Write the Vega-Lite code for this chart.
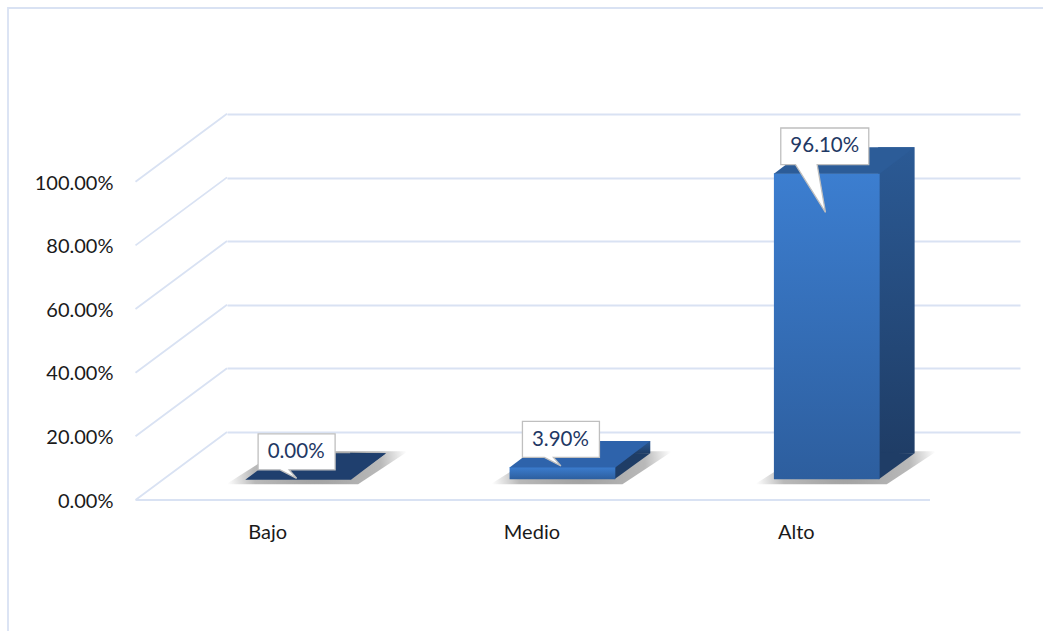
{
  "$schema": "https://vega.github.io/schema/vega-lite/v6.json",
  "width": 793,
  "height": 318,
  "autosize": {"type": "none"},
  "padding": {"left": 227, "top": 114, "right": 23, "bottom": 199},
  "background": "white",
  "config": {"view": {"stroke": null}, "font": "Lato", "axis": {"labelFont": "Lato"}},
  "data": {
    "values": [
      {"nivel": "Bajo", "porcentaje": 0.0},
      {"nivel": "Medio", "porcentaje": 0.039},
      {"nivel": "Alto", "porcentaje": 0.961}
    ]
  },
  "resolve": {"scale": {"x": "independent", "y": "independent"}},
  "layer": [
    {
      "transform": [{"aggregate": [{"op": "count", "as": "n"}]}],
      "mark": {
        "type": "point",
        "shape": "M0,0L-0.915,0.68M0,-0.6366L-0.915,0.0434M0,-1.2732L-0.915,-0.5932M0,-1.9098L-0.915,-1.2298M0,-2.5464L-0.915,-1.8664M0,-3.183L-0.915,-2.503M-0.915,0.68L7.03,0.68M-2.19,2.1L-2.19,-4.24L8.3,-4.24",
        "size": 40000,
        "filled": false,
        "stroke": "#D9E2F3",
        "strokeWidth": 1.8,
        "opacity": 1
      },
      "encoding": {
        "x": {"datum": 0, "type": "quantitative", "scale": {"domain": [0, 1]}, "axis": null},
        "y": {
          "datum": 0,
          "type": "quantitative",
          "scale": {"domain": [0, 1]},
          "axis": {
            "values": [0, 0.2, 0.4, 0.6, 0.8, 1],
            "format": ".2%",
            "grid": true,
            "gridColor": "#D9E2F3",
            "gridWidth": 1.8,
            "domain": false,
            "ticks": false,
            "labelOffset": 69,
            "labelPadding": 114,
            "labelFontSize": 20,
            "labelColor": "#1a1a1a",
            "title": null
          }
        }
      }
    },
    {
      "mark": {
        "type": "point",
        "shape": "M-0.72,0.05L0.6,0.05L1.1,-0.28L-0.2,-0.28Z",
        "size": 40000,
        "filled": true,
        "strokeWidth": 0,
        "opacity": 1,
        "fill": {
          "gradient": "radial",
          "x1": 0.5, "y1": 0.5, "r1": 0,
          "x2": 0.5, "y2": 0.5, "r2": 0.5,
          "stops": [
            {"offset": 0, "color": "rgba(80,80,80,0.55)"},
            {"offset": 0.7, "color": "rgba(80,80,80,0.4)"},
            {"offset": 1, "color": "rgba(80,80,80,0)"}
          ]
        }
      },
      "encoding": {
        "x": {"field": "nivel", "type": "nominal", "scale": {"type": "band", "domain": ["Bajo", "Medio", "Alto"], "paddingInner": 0.6, "paddingOuter": 0.3, "align": 0.115}, "axis": null},
        "y": {"datum": 0, "type": "quantitative", "scale": {"domain": [0, 1], "range": [365.3, 46.9], "nice": false, "zero": false}, "axis": null}
      }
    },
    {
      "mark": {
        "type": "bar",
        "width": 36.5,
        "color": {
          "gradient": "linear", "x1": 0, "y1": 0, "x2": 0, "y2": 1,
          "stops": [{"offset": 0, "color": "#2B5A95"}, {"offset": 1, "color": "#1F3D66"}]
        }
      },
      "encoding": {
        "x": {"field": "nivel", "type": "nominal", "scale": {"type": "band", "domain": ["Bajo", "Medio", "Alto"], "paddingInner": 0.6, "paddingOuter": 0.3, "align": 0.115, "range": [69.6, 862.6]}, "axis": null},
        "y": {"field": "porcentaje", "type": "quantitative", "scale": {"domain": [0, 1], "range": [339.3, 20.9], "nice": false, "zero": false}, "axis": null},
        "y2": {"datum": 0}
      }
    },
    {
      "mark": {
        "type": "point",
        "shape": "M0.52,0L0.8785,-0.26L0.52,-0.265Z",
        "size": 40000,
        "filled": true,
        "strokeWidth": 0,
        "opacity": 1,
        "fill": "#1F3D66"
      },
      "encoding": {
        "x": {"field": "nivel", "type": "nominal", "scale": {"type": "band", "domain": ["Bajo", "Medio", "Alto"], "paddingInner": 0.6, "paddingOuter": 0.3, "align": 0.115}, "axis": null},
        "y": {"datum": 0, "type": "quantitative", "scale": {"domain": [0, 1], "range": [365.3, 46.9], "nice": false, "zero": false}, "axis": null}
      }
    },
    {
      "mark": {
        "type": "bar",
        "color": {
          "gradient": "linear", "x1": 0, "y1": 0, "x2": 0, "y2": 1,
          "stops": [{"offset": 0, "color": "#3C7ED0"}, {"offset": 1, "color": "#2D5E9E"}]
        }
      },
      "encoding": {
        "x": {
          "field": "nivel",
          "type": "nominal",
          "scale": {"type": "band", "domain": ["Bajo", "Medio", "Alto"], "paddingInner": 0.6, "paddingOuter": 0.3, "align": 0.115},
          "axis": {
            "labelOffset": -30.5,
            "labelPadding": 106,
            "labelBaseline": "alphabetic",
            "labelAngle": 0,
            "domain": false,
            "ticks": false,
            "grid": false,
            "title": null,
            "labelFontSize": 20,
            "labelColor": "#1a1a1a"
          }
        },
        "y": {"field": "porcentaje", "type": "quantitative", "scale": {"domain": [0, 1], "range": [365.3, 46.9], "nice": false, "zero": false}, "axis": null},
        "y2": {"datum": 0}
      }
    },
    {
      "mark": {
        "type": "point",
        "shape": "M-0.5285,0.005L0.5285,0.005L0.8785,-0.26L-0.1785,-0.26Z",
        "size": 40000,
        "filled": true,
        "strokeWidth": 0,
        "opacity": 1
      },
      "encoding": {
        "x": {"field": "nivel", "type": "nominal", "scale": {"type": "band", "domain": ["Bajo", "Medio", "Alto"], "paddingInner": 0.6, "paddingOuter": 0.3, "align": 0.115}, "axis": null},
        "y": {"field": "porcentaje", "type": "quantitative", "scale": {"domain": [0, 1], "range": [365.3, 46.9], "nice": false, "zero": false}, "axis": null},
        "color": {"field": "nivel", "type": "nominal", "scale": {"domain": ["Bajo", "Medio", "Alto"], "range": ["#1F3F6E", "#2E63AB", "#2C5C98"]}, "legend": null}
      }
    },
    {
      "mark": {
        "type": "point",
        "size": 40000,
        "filled": true,
        "fill": "white",
        "stroke": "#BFBFBF",
        "strokeWidth": 1.3,
        "opacity": 1
      },
      "encoding": {
        "x": {"field": "nivel", "type": "nominal", "scale": {"type": "band", "domain": ["Bajo", "Medio", "Alto"], "paddingInner": 0.6, "paddingOuter": 0.3, "align": 0.115}, "axis": null},
        "y": {"field": "porcentaje", "type": "quantitative", "scale": {"domain": [0, 1], "range": [365.3, 46.9], "nice": false, "zero": false}, "axis": null},
        "shape": {
          "field": "nivel",
          "type": "nominal",
          "scale": {
            "domain": ["Bajo", "Medio", "Alto"],
            "range": [
              "M-0.40,-0.455L0.37,-0.455L0.37,-0.095L-0.09,-0.095L-0.015,-0.01L-0.18,-0.095L-0.40,-0.095Z",
              "M-0.40,-0.455L0.37,-0.455L0.37,-0.095L-0.09,-0.095L-0.015,-0.01L-0.18,-0.095L-0.40,-0.095Z",
              "M-0.46,-0.453L0.42,-0.453L0.42,-0.087L-0.096,-0.087L-0.013,0.39L-0.313,-0.087L-0.46,-0.087Z"
            ]
          },
          "legend": null
        }
      }
    },
    {
      "mark": {
        "type": "text",
        "dx": -2,
        "dy": -27,
        "baseline": "middle",
        "align": "center",
        "font": "Lato",
        "fontSize": 20.5,
        "color": "#1F3864"
      },
      "encoding": {
        "x": {"field": "nivel", "type": "nominal", "scale": {"type": "band", "domain": ["Bajo", "Medio", "Alto"], "paddingInner": 0.6, "paddingOuter": 0.3, "align": 0.115}, "axis": null},
        "y": {"field": "porcentaje", "type": "quantitative", "scale": {"domain": [0, 1], "range": [365.3, 46.9], "nice": false, "zero": false}, "axis": null},
        "text": {"field": "porcentaje", "type": "quantitative", "format": ".2%"}
      }
    }
  ]
}
